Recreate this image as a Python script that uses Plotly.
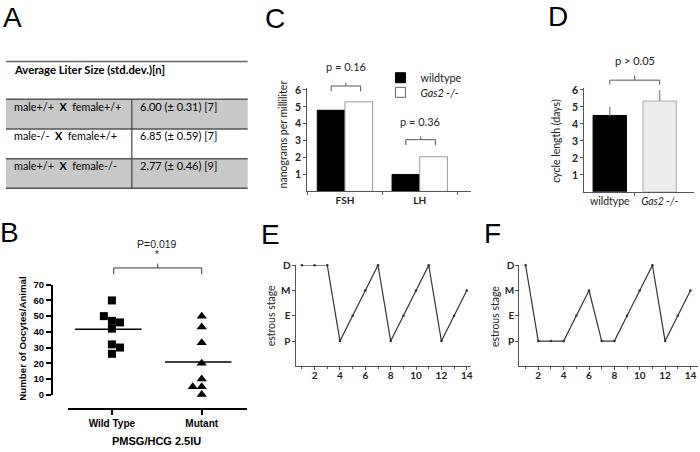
import plotly.graph_objects as go

W, H = 700, 452


def px(x):
    return x / W


def py(y):
    return 1 - y / H


# ---------------- data ----------------
# Panel A (table)
table_header = "Average Liter Size (std.dev.)[n]"
cross_male = ["male+/+", "male-/-", "male+/+"]
cross_female = ["female+/+", "female+/+", "female-/-"]
litter_mean = [6.00, 6.85, 2.77]
litter_sd = [0.31, 0.59, 0.46]
litter_n = [7, 7, 9]
row_shaded = [True, False, True]

# Panel B (oocytes per animal)
groups_B = ["Wild Type", "Mutant"]
wt_oocytes = [60, 50, 47, 46, 42, 32, 30, 26]
wt_jitter = [0, -0.09, 0, 0.09, 0, 0, 0.09, 0]
mut_oocytes = [50, 43, 33, 20, 10, 5, 5, 0]
mut_jitter = [0, 0, 0, 0, 0, -0.1, 0, 0]
p_B = "P=0.019"

# Panel C (hormones)
hormones = ["FSH", "LH"]
hormone_wt = [4.8, 1.0]
hormone_ko = [5.3, 2.05]
hormone_p = ["p = 0.16", "p = 0.36"]

# Panel D (cycle length)
genotypes = ["wildtype", "<i>Gas2 -/-</i>"]
cycle_len = [4.5, 5.35]
cycle_err = [0.5, 0.65]
p_D = "p > 0.05"

# Panels E, F (estrous stage by day)
days = list(range(1, 15))
stage_names = ["P", "E", "M", "D"]
stage_E = ["D", "D", "D", "P", "E", "M", "D", "P", "E", "M", "D", "P", "E", "M"]
stage_F = ["D", "P", "P", "P", "E", "M", "P", "P", "E", "M", "D", "P", "E", "M"]

# ---------------- figure ----------------
CAL = "Lato"
ARI = "Liberation Sans"
AX = "#555555"
TXT = "#222222"

fig = go.Figure()
shapes = []
annotations = []


def note(x, y, text, font, xref="paper", xanchor="center", **kw):
    annotations.append(dict(xref=xref, yref="paper", x=x, y=y, text=text, font=font,
                            showarrow=False, xanchor=xanchor, yanchor="middle", **kw))


# ---- Panel B ----
wt_mean = sum(wt_oocytes) / len(wt_oocytes)
mut_mean = sum(mut_oocytes) / len(mut_oocytes)
fig.add_trace(go.Scatter(
    x=[1 + j for j in wt_jitter], y=wt_oocytes, mode="markers",
    marker=dict(symbol="square", size=8, color="black"),
    xaxis="x", yaxis="y", cliponaxis=False, showlegend=False))
fig.add_trace(go.Scatter(
    x=[2 + j for j in mut_jitter], y=mut_oocytes, mode="markers",
    marker=dict(symbol="triangle-up", size=9, color="black"),
    xaxis="x", yaxis="y", cliponaxis=False, showlegend=False))
for g, m in [(1, wt_mean), (2, mut_mean)]:
    fig.add_trace(go.Scatter(
        x=[g - 0.41, g + 0.33], y=[m, m], mode="lines",
        line=dict(color="black", width=1.5),
        xaxis="x", yaxis="y", cliponaxis=False, showlegend=False))

# ---- Panel C ----
fig.add_trace(go.Bar(
    x=[0, 1], y=hormone_wt, offset=-0.37, width=0.37,
    marker=dict(color="black", line=dict(color="black", width=1)),
    xaxis="x2", yaxis="y2", showlegend=False))
fig.add_trace(go.Bar(
    x=[0, 1], y=hormone_ko, offset=0, width=0.37,
    marker=dict(color="white", line=dict(color="#9a9a9a", width=1)),
    xaxis="x2", yaxis="y2", showlegend=False))
# legend entries (one legend per entry to control spacing)
fig.add_trace(go.Scatter(
    x=[None], y=[None], mode="markers", name="wildtype", legend="legend",
    marker=dict(symbol="square", size=10, color="black", line=dict(color="black", width=1)),
    xaxis="x2", yaxis="y2"))
fig.add_trace(go.Scatter(
    x=[None], y=[None], mode="markers", name="<i>Gas2 -/-</i>", legend="legend2",
    marker=dict(symbol="square", size=10, color="white", line=dict(color="#666", width=1)),
    xaxis="x2", yaxis="y2"))

# ---- Panel D ----
fig.add_trace(go.Bar(
    x=[0, 1], y=cycle_len, width=0.67,
    marker=dict(color=["black", "#ececec"], line=dict(color=["black", "#aaaaaa"], width=1)),
    error_y=dict(type="data", symmetric=False, array=cycle_err, arrayminus=[0, 0],
                 color="#9a9a9a", thickness=1.5, width=0),
    xaxis="x3", yaxis="y3", showlegend=False))

# ---- Panels E, F ----
stage_val = {s: i + 1 for i, s in enumerate(stage_names)}
for st, xa, ya in [(stage_E, "x4", "y4"), (stage_F, "x5", "y5")]:
    fig.add_trace(go.Scatter(
        x=days, y=[stage_val[s] for s in st], mode="lines+markers",
        line=dict(color="#333333", width=1.2),
        marker=dict(size=2.5, color="#333333"),
        xaxis=xa, yaxis=ya, cliponaxis=False, showlegend=False))

# ---------------- axes ----------------
lin = dict(showgrid=False, zeroline=False, showline=True, fixedrange=True)
bold_tick = dict(family=CAL, size=10, color=TXT, weight="bold")

layout_axes = dict(
    # B
    xaxis=dict(domain=[px(68), px(247)], anchor="free", position=py(413),
               range=[0.51, 2.5], tickvals=[1, 2], ticktext=groups_B,
               ticks="outside", ticklen=5, tickwidth=2, linewidth=2, linecolor="black",
               tickcolor="black",
               tickfont=dict(family=ARI, size=10, color="black", weight="bold"), **lin),
    yaxis=dict(domain=[py(398.3), py(285.7)], anchor="free", position=px(52),
               range=[0, 70], dtick=10, ticks="outside", ticklen=5, tickwidth=2,
               linewidth=2, linecolor="black", tickcolor="black",
               tickfont=dict(family=ARI, size=9.5, color="black", weight="bold"), **lin),
    # C
    xaxis2=dict(domain=[px(307.7), px(472)], anchor="y2", range=[-0.504, 1.69],
                tickvals=[0, 1], ticktext=hormones, ticks="",
                minor=dict(tickvals=[-0.5, 0.5, 1.5], ticks="outside", ticklen=3, tickcolor=AX),
                linecolor=AX, linewidth=1, tickfont=bold_tick, **lin),
    yaxis2=dict(domain=[py(190), py(84)], anchor="x2", range=[0, 6.12],
                tickvals=[1, 2, 3, 4, 5, 6], ticks="outside", ticklen=3, tickcolor=AX,
                linecolor=AX, linewidth=1,
                tickfont=dict(family=CAL, size=10.5, color=TXT, weight="bold"), **lin),
    # D
    xaxis3=dict(domain=[px(585), px(695)], anchor="y3", range=[-0.514, 1.69],
                tickvals=[0, 1], ticktext=genotypes, ticks="",
                minor=dict(tickvals=[0.5], ticks="outside", ticklen=3, tickcolor=AX),
                linecolor=AX, linewidth=1,
                tickfont=dict(family=CAL, size=10.5, color=TXT), **lin),
    yaxis3=dict(domain=[py(190.5), py(84)], anchor="x3", range=[0, 6.12],
                tickvals=[1, 2, 3, 4, 5, 6], ticks="outside", ticklen=3, tickcolor=AX,
                linecolor=AX, linewidth=1,
                tickfont=dict(family=CAL, size=10.5, color=TXT, weight="bold"), **lin),
)
for xa, ya, xd in [("xaxis4", "yaxis4", [296, 472]), ("xaxis5", "yaxis5", [520, 699])]:
    n = xa[-1]
    span = (xd[1] - xd[0]) / 12.7
    layout_axes[xa] = dict(domain=[px(xd[0]), px(xd[1])], anchor="y" + n,
                           range=[0.5, 0.5 + span], tickvals=[2, 4, 6, 8, 10, 12, 14],
                           ticks="outside", ticklen=3, tickcolor=AX, ticklabelstandoff=-3,
                           minor=dict(dtick=1, tick0=0, ticks="outside", ticklen=2, tickcolor=AX),
                           linecolor=AX, linewidth=1, tickfont=bold_tick, **lin)
    layout_axes[ya] = dict(domain=[py(369.3), py(265.7)], anchor="x" + n, range=[0, 4],
                           tickvals=[1, 2, 3, 4], ticktext=stage_names,
                           ticks="outside", ticklen=3, tickcolor=AX, ticklabelstandoff=-1,
                           linecolor=AX, linewidth=1, tickfont=bold_tick, **lin)

# ---------------- panel A table ----------------
row_top0 = 95.7
row_h = 30.4
shapes.append(dict(type="line", xref="paper", yref="paper", x0=px(6), x1=px(248),
                   y0=py(57), y1=py(57), line=dict(color="#666", width=1.5)))
note(px(12), py(65), "<b>%s</b>" % table_header,
     dict(family=CAL, size=11.3, color="black"), xanchor="left")
shapes.append(dict(type="line", xref="paper", yref="paper", x0=px(6), x1=px(248),
                   y0=py(row_top0), y1=py(row_top0), line=dict(color="#555", width=1.5)))
for i in range(len(cross_male)):
    t = row_top0 + i * row_h
    b = t + row_h
    if row_shaded[i]:
        shapes.append(dict(type="rect", xref="paper", yref="paper", x0=px(6), x1=px(248),
                           y0=py(b), y1=py(t), fillcolor="#c8c8c8", line=dict(width=0),
                           layer="below"))
    shapes.append(dict(type="line", xref="paper", yref="paper", x0=px(6), x1=px(248),
                       y0=py(b), y1=py(b), line=dict(color="#555", width=1.5)))
    note(px(12), py(t + 7),
         "%s\u00a0\u00a0<b>X</b>\u00a0\u00a0%s" % (cross_male[i], cross_female[i]),
         dict(family=CAL, size=10.8, color="black"), xanchor="left")
    note(px(138), py(t + 7),
         "%.2f (\u00b1 %.2f) [%d]" % (litter_mean[i], litter_sd[i], litter_n[i]),
         dict(family=CAL, size=11, color="black"), xanchor="left")
shapes.append(dict(type="line", xref="paper", yref="paper", x0=px(132), x1=px(132),
                   y0=py(row_top0), y1=py(row_top0 + 3 * row_h),
                   line=dict(color="#444", width=1.2)))


# ---------------- brackets ----------------
def bracket(xref, x0, x1, y_line, y_end, y_nub, color="#555", width=1):
    xm = (x0 + x1) / 2
    path = "M %f,%f L %f,%f L %f,%f L %f,%f M %f,%f L %f,%f" % (
        x0, py(y_end), x0, py(y_line), x1, py(y_line), x1, py(y_end),
        xm, py(y_line), xm, py(y_nub))
    shapes.append(dict(type="path", xref=xref, yref="paper", path=path,
                       line=dict(color=color, width=width)))


# B
bracket("x", 1.02, 2.0, 268.5, 275, 264, color="#333", width=1)
note(1.5, py(244), p_B, dict(family=ARI, size=10.5, color="#222"), xref="x")
note(1.5, py(255), "*", dict(family=ARI, size=10, color="#222"), xref="x")
# C
for i, (y_t, y_l) in enumerate([(62.5, 82), (118.5, 137)]):
    bracket("x2", i - 0.185, i + 0.21, y_l, y_l + 5.5, y_l - 3.5)
    note(i + 0.01, py(y_t), hormone_p[i], dict(family=CAL, size=11, color=TXT), xref="x2")
# D
bracket("x3", 0, 1.0, 76, 80.5, 71)
note(0.5, py(55.5), p_D, dict(family=CAL, size=11, color=TXT), xref="x3")

# ---------------- axis titles ----------------
note(px(23), py(341), "<b>Number of Oocytes/Animal</b>",
     dict(family=ARI, size=9.7, color="black"), textangle=-90)
note(px(157), py(446), "<b>PMSG/HCG 2.5IU</b>", dict(family=ARI, size=11, color="black"))
note(px(283), py(132), "nanograms per milliliter", dict(family=CAL, size=10.5, color=TXT),
     textangle=-90)
note(px(556), py(138), "cycle length (days)", dict(family=CAL, size=10.5, color=TXT),
     textangle=-90)
note(px(271.5), py(318), "estrous stage", dict(family=CAL, size=10.5, color=TXT), textangle=-90)
note(px(495.5), py(318), "estrous stage", dict(family=CAL, size=10.5, color=TXT), textangle=-90)

# ---------------- panel letters ----------------
for letter, lx, ly in [("A", 13, 12), ("B", 10, 232), ("C", 275, 13),
                       ("D", 559, 11), ("E", 271, 234), ("F", 493, 233)]:
    note(px(lx), py(ly), letter, dict(family=ARI, size=28, color="black"))

leg_common = dict(xanchor="left", yanchor="middle", bgcolor="rgba(0,0,0,0)",
                  font=dict(family=CAL, size=10.8, color=TXT), itemwidth=30)
fig.update_layout(
    width=W, height=H, margin=dict(l=0, r=0, t=0, b=0),
    paper_bgcolor="white", plot_bgcolor="rgba(0,0,0,0)",
    barmode="overlay",
    showlegend=True,
    legend=dict(x=px(381), y=py(73.5), **leg_common),
    legend2=dict(x=px(381), y=py(88.5), **leg_common),
    shapes=shapes, annotations=annotations,
    **layout_axes,
)

fig.write_html("out.html", config={"displayModeBar": False},
               post_script="document.body.style.margin='0px';document.body.style.overflow='hidden';")
